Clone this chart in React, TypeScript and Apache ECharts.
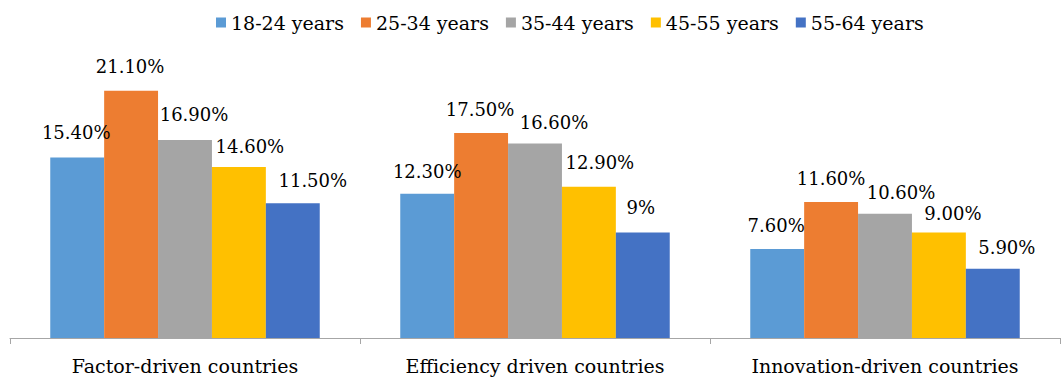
import React, { useEffect, useRef } from "react";
import * as echarts from "echarts";

const categories = ["Factor-driven countries", "Efficiency driven countries", "Innovation-driven countries"];
const seriesNames = ["18-24 years", "25-34 years", "35-44 years", "45-55 years", "55-64 years"];
const age1824 = [15.4, 12.3, 7.6];
const age2534 = [21.1, 17.5, 11.6];
const age3544 = [16.9, 16.6, 10.6];
const age4555 = [14.6, 12.9, 9.0];
const age5564 = [11.5, 9.0, 5.9];
const labels1824 = ["15.40%", "12.30%", "7.60%"];
const labels2534 = ["21.10%", "17.50%", "11.60%"];
const labels3544 = ["16.90%", "16.60%", "10.60%"];
const labels4555 = ["14.60%", "12.90%", "9.00%"];
const labels5564 = ["11.50%", "9%", "5.90%"];

const colors = ["#5B9BD5", "#ED7D31", "#A5A5A5", "#FFC000", "#4472C4"];
// label nudges [dx, dy] per series per category (style only)
const labelNudge = [
  [[-1, -2], [0, 1], [-1, 0]],
  [[-1, -1], [-1, 0], [0, -1]],
  [[9, -2], [19, 2], [16, 2]],
  [[11, 3], [11, -1], [14, 4]],
  [[20, 0], [-2, -2], [14, 2]],
];

const FONT = "DejaVu Serif";

export default function App() {
  const ref = useRef<HTMLDivElement>(null);
  useEffect(() => {
    document.body.style.margin = "0";
    const chart = echarts.init(ref.current!, undefined, { renderer: "svg" });
    const values = [age1824, age2534, age3544, age4555, age5564];
    const texts = [labels1824, labels2534, labels3544, labels4555, labels5564];
    chart.setOption({
      animation: false,
      color: colors,
      textStyle: { fontFamily: FONT },
      legend: {
        data: seriesNames,
        top: 8,
        left: 211,
        itemWidth: 10,
        itemHeight: 10,
        itemGap: 17,
        icon: "rect",
        textStyle: { fontFamily: FONT, fontSize: 19, color: "#000" },
      },
      grid: { left: 10, right: 2, top: 45, bottom: 43, containLabel: false },
      xAxis: {
        type: "category",
        data: categories,
        axisLine: { lineStyle: { color: "#A6A6A6", width: 1 } },
        axisTick: { show: true, length: 6, alignWithLabel: false, lineStyle: { color: "#A6A6A6" } },
        axisLabel: { interval: 0, fontFamily: FONT, fontSize: 19, color: "#000", margin: 18 },
      },
      yAxis: {
        type: "value",
        min: 0,
        max: 25,
        show: false,
        splitLine: { show: false },
      },
      series: seriesNames.map((name, si) => ({
        name,
        type: "bar",
        barGap: "0%",
        barCategoryGap: "23%",
        data: values[si].map((v, ci) => ({
          value: v,
          label: {
            formatter: texts[si][ci],
            offset: labelNudge[si][ci],
          },
        })),
        label: {
          show: true,
          position: "top",
          distance: 14,
          fontFamily: FONT,
          fontSize: 18,
          color: "#000",
        },
      })),
    });
    return () => chart.dispose();
  }, []);
  return <div ref={ref} style={{ width: 1062, height: 381 }} />;
}
